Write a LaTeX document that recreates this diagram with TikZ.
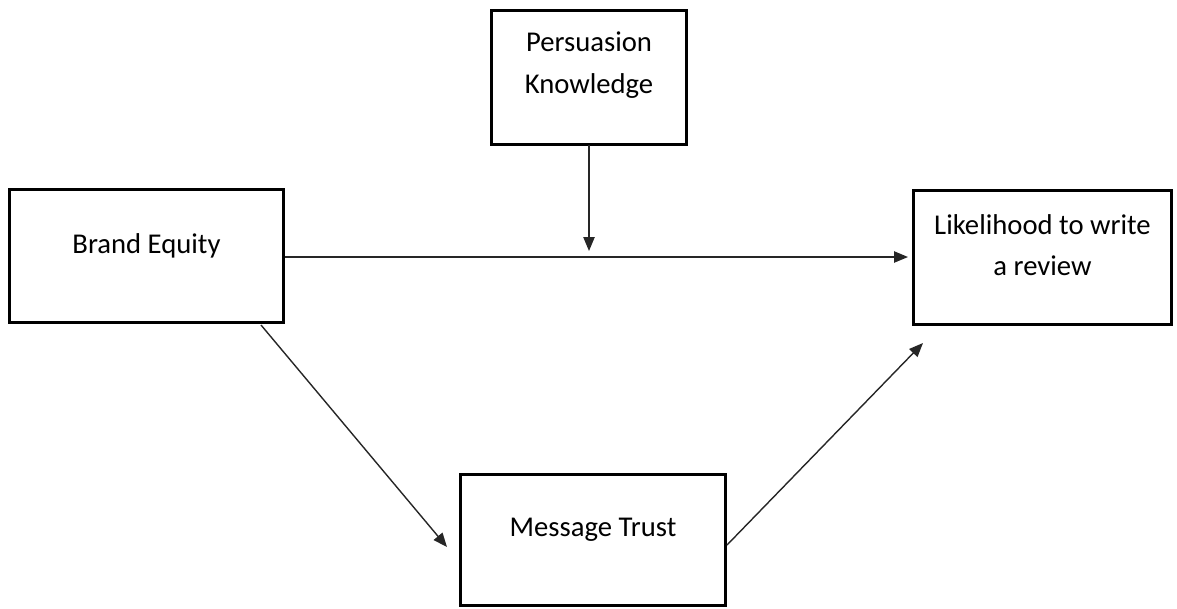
\documentclass[tikz,border=0pt]{standalone}
\usepackage{fontspec}
\setmainfont{Carlito}
\usetikzlibrary{arrows.meta}
\begin{document}
\begin{tikzpicture}[x=0.75pt,y=-0.75pt,
  box/.style={draw=black,line width=2.2pt,minimum width=#1,inner sep=0pt,outer sep=0pt},
  box/.default=200pt,
  txt/.style={align=center,font=\fontsize{21.5}{31}\selectfont,text=black},
  conn/.style={draw=black!85,line width=1.05pt,-{Triangle[length=10.5pt,width=8.5pt]}}]
\useasboundingbox (0,0) rectangle (1177,608);
% boxes (path dimensions in pt, 0.75pt per px)
\node[box=146.25pt,minimum height=100.5pt] (PK) at (589,77.5) {};
\node[box=205.5pt,minimum height=99.75pt] (BE) at (146.5,256) {};
\node[box=193.5pt,minimum height=100.5pt] (LR) at (1042.5,257.5) {};
\node[box=198.75pt,minimum height=98.25pt] (MT) at (593,540) {};
% texts
\node[txt] (PKt) at (589,65) {Persuasion\\Knowledge};
\node[txt] (BEt) at (146.5,246) {Brand Equity};
\node[txt] (LRt) at (1042.5,245) {Likelihood to write\\a review};
\node[txt] (MTt) at (593,530) {Message Trust};
% free ends
\coordinate (pkend) at (589,251);
\coordinate (hstart) at (285,257);
\coordinate (hend) at (908,257);
\coordinate (d1s) at (261,325);
\coordinate (d1e) at (447,547);
\coordinate (d2s) at (727,545);
\coordinate (d2e) at (923,343);
% connectors
\draw[conn] (PK.south) -- (pkend);
\draw[conn] (hstart) -- (hend);
\draw[conn] (d1s) -- (d1e);
\draw[conn] (d2s) -- (d2e);
\end{tikzpicture}
\end{document}
